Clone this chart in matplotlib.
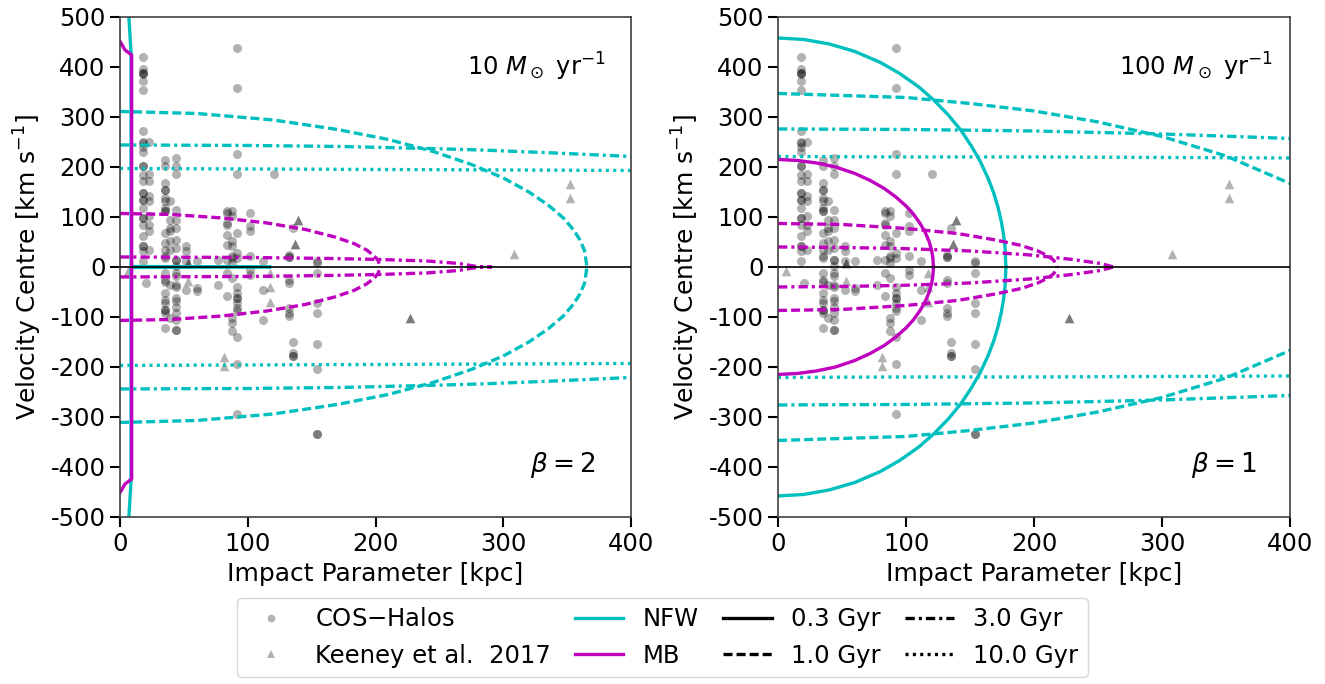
import matplotlib
matplotlib.use("Agg")
import matplotlib.pyplot as plt
from matplotlib.lines import Line2D

plt.rcParams["axes.unicode_minus"] = False
plt.rcParams["font.size"] = 17.5
plt.rcParams["mathtext.fontset"] = "dejavusans"
plt.rcParams["lines.scale_dashes"] = False

# COS-Halos absorber components: impact parameter [kpc] -> velocity centres [km/s]
cos_halos = {
    17.7: [420, 395, 388, 388, 385, 371, 353, 271, 250, 247, 240, 229, 201, 201, 184,
           171, 147, 147, 134, 134, 117, 97, 97, 84, 61, 41, 41, 31, 11],
    20.0: [-33],
    23.0: [250, 185, 171, 141, 131, 101, 84, 71, 34],
    35.0: [214, 201, 167, 154, 154, 137, 131, 117, 111, 111, 67, 47, 34, 21, 17, -13,
           -26, -30, -53, -66, -73, -86, -86, -93, -123],
    39.0: [131, 94, 77, 71, 51, 34, -36, -103],
    44.0: [217, 201, 185, 114, 94, 77, 54, 37, 14, 14, 1, -13, -19, -36, -40, -63,
           -69, -80, -93, -106, -127, -127],
    52.0: [41, 31, 11, -46],
    60.0: [11, -43, -49],
    77.0: [-36, 14],
    83.5: [111, 107, 87, 84, 64, 44, 14, -13, -59],
    87.5: [111, 101, 51, 41, 21, 17, 7, -23, -103, -113, -129],
    91.8: [437, 357, 225, 185, 67, 27, 17, -40, -53, -63, -63, -73, -83, -89, -141,
           -195, -295],
    102.0: [107, 81, 71, 21, -6, -16],
    112.0: [11, -46, -106],
    120.5: [186],
    132.0: [24, 19, 19, -26, -33, -83, -93, -99],
    135.0: [77, -151, -173, -179, -179],
    154.0: [11, 8, -13, -73, -93, -154, -204, -335, -335],
}
cos_b = [b for b, vs in cos_halos.items() for _ in vs]
cos_v = [v for vs in cos_halos.values() for v in vs]

keeney_b = [6, 53, 53, 53, 81, 81, 117, 117, 117, 137, 137, 139, 139, 227, 227, 308, 352, 352]
keeney_v = [-9, 8, 8, -29, -180, -199, -12, -40, -71, 46, 46, 94, 94, -103, -103, 25, 165, 138]

# model envelopes (upper branch, mirrored for negative velocities)
# left panel: 10 Msun/yr, beta = 2
l_nfw_03_b = [6.0, 8.6, 8.6, 117]
l_nfw_03_v = [540, 428, 1, 0]
l_nfw_10_b = [0, 60, 120, 170, 210, 245, 275, 300, 320, 335, 347, 355, 360, 363.5, 365.5]
l_nfw_10_v = [311, 307, 294, 275, 255, 231, 205, 178, 150, 124, 98, 74, 54, 33, 0]
l_nfw_30_b = [0, 100, 172, 240, 282, 340, 400]
l_nfw_30_v = [244, 243, 241, 237, 234, 228, 221]
l_nfw_100_b = [0, 100, 200, 300, 400]
l_nfw_100_v = [197, 196, 195, 194, 193]
l_mb_03_b = [0, 3.9, 9.1, 9.1]
l_mb_03_v = [451, 434, 424, 0]
l_mb_10_b = [0, 40, 80, 115, 145, 168, 183, 193, 199, 202, 203.5]
l_mb_10_v = [107, 105, 98, 88, 75, 60, 47, 34, 22, 13, 0]
l_mb_30_b = [0, 100, 164, 203, 240, 265, 279, 291]
l_mb_30_v = [20, 19, 17, 15, 12, 7, 1, 0]

# right panel: 100 Msun/yr, beta = 1
r_nfw_03_b = [0, 20, 40, 60, 80, 95, 110, 122, 133, 143, 151, 158, 164, 168.5, 172,
              174.5, 176.3, 177.4, 178]
r_nfw_03_v = [458, 455, 446, 431, 409, 387, 360, 333, 304, 273, 242, 211, 178, 148, 118,
              90, 63, 38, 0]
r_nfw_10_b = [0, 50, 100, 150, 200, 250, 300, 350, 400]
r_nfw_10_v = [347, 343, 339, 327, 312, 290, 261, 222, 167]
r_nfw_30_b = [0, 100, 200, 300, 400]
r_nfw_30_v = [276, 275, 272, 266, 257]
r_nfw_100_b = [0, 100, 200, 300, 400]
r_nfw_100_v = [221, 220, 220, 219, 218]
r_mb_03_b = [0, 15, 30, 45, 60, 72, 83, 92, 100, 106, 111, 115, 118, 120, 121, 121.4]
r_mb_03_v = [215, 213, 208, 200, 187, 173, 157, 140, 122, 105, 87, 69, 51, 33, 17, 0]
r_mb_10_b = [0, 50, 100, 140, 170, 190, 203, 211, 215.5, 218]
r_mb_10_v = [87, 85, 77, 67, 54, 43, 32, 22, 13, 0]
r_mb_30_b = [0, 50, 95, 150, 197, 230, 252, 262]
r_mb_30_v = [40, 39, 37, 32, 24, 15, 7, 0]

panels = [
    dict(rate="10 $M_\\odot$ yr$^{-1}$", beta="$\\beta = 2$",
         curves=[("c", "-", l_nfw_03_b, l_nfw_03_v), ("c", "--", l_nfw_10_b, l_nfw_10_v),
                 ("c", "-.", l_nfw_30_b, l_nfw_30_v), ("c", ":", l_nfw_100_b, l_nfw_100_v),
                 ("m", "-", l_mb_03_b, l_mb_03_v), ("m", "--", l_mb_10_b, l_mb_10_v),
                 ("m", "-.", l_mb_30_b, l_mb_30_v)]),
    dict(rate="100 $M_\\odot$ yr$^{-1}$", beta="$\\beta = 1$",
         curves=[("c", "-", r_nfw_03_b, r_nfw_03_v), ("c", "--", r_nfw_10_b, r_nfw_10_v),
                 ("c", "-.", r_nfw_30_b, r_nfw_30_v), ("c", ":", r_nfw_100_b, r_nfw_100_v),
                 ("m", "-", r_mb_03_b, r_mb_03_v), ("m", "--", r_mb_10_b, r_mb_10_v),
                 ("m", "-.", r_mb_30_b, r_mb_30_v)]),
]

dashes = {"-": None, "--": (6.5, 2.9), "-.": (6.7, 2.9, 2.2, 2.9), ":": (2.2, 3.1)}


def styled(ax, b, v, color, ls, lw=2.4):
    kw = dict(color=color, lw=lw)
    if dashes[ls] is None:
        ax.plot(b, v, ls="-", **kw)
    else:
        ax.plot(b, v, dashes=dashes[ls], **kw)


fig = plt.figure(figsize=(13.25, 6.84), dpi=100)
rects = [[0.0906, 0.2442, 0.3857, 0.7310], [0.5872, 0.2442, 0.3864, 0.7310]]
right_x = [(0.951, 0.93), (0.967, 0.934)]

for rect, p, (rx1, rx2) in zip(rects, panels, right_x):
    ax = fig.add_axes(rect)
    ax.scatter(cos_b, cos_v, s=42, color="k", alpha=0.3, lw=0, zorder=1)
    ax.scatter(keeney_b, keeney_v, s=48, marker="^", color="k", alpha=0.3, lw=0, zorder=1)
    for color, ls, b, v in p["curves"]:
        styled(ax, b, v, color, ls)
        styled(ax, b, [-x for x in v], color, ls)
    ax.axhline(0, color="k", lw=1.2, zorder=3)
    ax.text(rx1, 0.90, p["rate"], transform=ax.transAxes, ha="right", va="center", fontsize=17.5)
    ax.text(rx2, 0.104, p["beta"], transform=ax.transAxes, ha="right", va="center", fontsize=19)
    ax.set_xlim(0, 400)
    ax.set_ylim(-500, 500)
    ax.set_xticks([0, 100, 200, 300, 400])
    ax.set_yticks(range(-500, 501, 100))
    ax.tick_params(direction="out", length=7, width=1.5, labelsize=17.5)
    for s in ax.spines.values():
        s.set_color("0.25")
        s.set_linewidth(1.2)
    ax.set_xlabel("Impact Parameter [kpc]", fontsize=18, labelpad=5)
    ax.set_ylabel("Velocity Centre [km s$^{-1}$]", fontsize=18, labelpad=5)

handles = [
    Line2D([], [], ls="", marker="o", ms=5.5, color="k", alpha=0.3, mew=0),
    Line2D([], [], ls="", marker="^", ms=5.5, color="k", alpha=0.3, mew=0),
    Line2D([], [], color="c", lw=2.4),
    Line2D([], [], color="m", lw=2.4),
    Line2D([], [], color="k", lw=2.4),
    Line2D([], [], color="k", lw=2.4, dashes=dashes["--"]),
    Line2D([], [], color="k", lw=2.4, dashes=dashes["-."]),
    Line2D([], [], color="k", lw=2.4, dashes=dashes[":"]),
]
labels = ["COS$-$Halos", "Keeney et al.  2017", "NFW", "MB",
          "0.3 Gyr", "1.0 Gyr", "3.0 Gyr", "10.0 Gyr"]
fig.legend(handles, labels, ncol=4, loc="lower center", bbox_to_anchor=(0.5, -0.008),
           fontsize=17.5, handlelength=2.0, columnspacing=1.0, labelspacing=0.5,
           handletextpad=0.8, edgecolor="0.8")

fig.savefig("out.png", dpi=100)
